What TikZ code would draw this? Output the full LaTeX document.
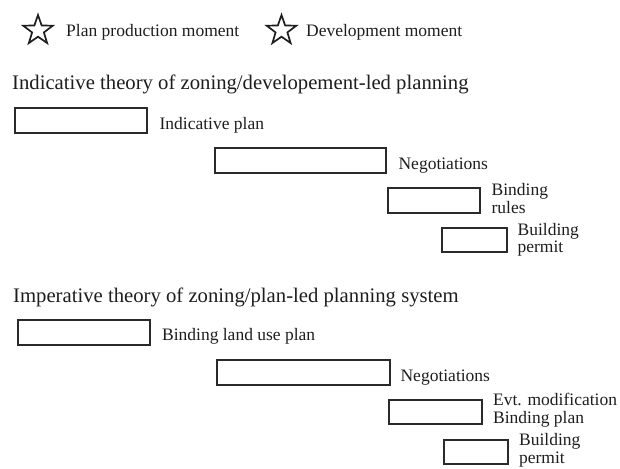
\documentclass[tikz,border=0pt]{standalone}
\usepackage{fontspec}
\setmainfont{Liberation Serif}
\usetikzlibrary{shapes.geometric}
\definecolor{ink}{HTML}{1E1E1E}
\definecolor{frame}{HTML}{2A2A2A}
\begin{document}
\begin{tikzpicture}[x=1pt,y=-1pt,
  phase/.style={draw=frame, line width=1.8pt, rectangle, inner sep=0pt, fill=white},
  lbl/.style={text=ink, inner sep=0pt, anchor=base west, align=left,
              font=\fontsize{17.5}{18}\selectfont},
  heading/.style={text=ink, inner sep=0pt, anchor=base west,
              font=\fontsize{20.7}{24}\selectfont},
  moment/.style={star, star points=5, star point ratio=2.5, draw=ink,
              line width=1.7pt, inner sep=0pt, minimum size=31pt}]
\useasboundingbox (0,0) rectangle (620,468);
\fill[white] (0,0) rectangle (620,468);

% legend
\node[moment] (s1) at (38,30.5) {};
\node[lbl] (k1) at (66,37) {Plan production moment};
\node[moment] (s2) at (281.5,30.5) {};
\node[lbl] (k2) at (306,37) {Development moment};

% indicative system
\node[heading] (h1) at (12,90) {Indicative theory of zoning/developement-led planning};
\node[phase, minimum width=132pt, minimum height=25pt] (b1) at (81,120.5) {};
\node[phase, minimum width=171pt, minimum height=25pt] (b2) at (300.5,160.5) {};
\node[phase, minimum width=92pt,  minimum height=25pt] (b3) at (434,200.5) {};
\node[phase, minimum width=65pt,  minimum height=24pt] (b4) at (474.5,240) {};
\node[lbl] (t1) at ([xshift=11.5pt,yshift=-8.5pt]b1.east) {Indicative plan};
\node[lbl] (t2) at ([xshift=11.5pt,yshift=-8.5pt]b2.east) {Negotiations};
% two-line labels: the base anchor sits on the last line
\node[lbl] (t3) at ([xshift=10.5pt,yshift=-12.5pt]b3.east) {Binding\\rules};
\node[lbl, font=\fontsize{17.5}{17}\selectfont] (t4) at ([xshift=9.5pt,yshift=-12pt]b4.east) {Building\\permit};

% imperative system
\node[heading] (h2) at (13,302) {Imperative theory of zoning/plan-led planning system};
\node[phase, minimum width=132pt, minimum height=25pt] (b5) at (84,332.5) {};
\node[phase, minimum width=173pt, minimum height=25pt] (b6) at (303.5,372.5) {};
\node[phase, minimum width=93pt,  minimum height=24pt] (b7) at (435.5,412) {};
\node[phase, minimum width=64pt,  minimum height=24pt] (b8) at (476,452) {};
\node[lbl] (t5) at ([xshift=11pt,yshift=-8pt]b5.east) {Binding land use plan};
\node[lbl] (t6) at ([xshift=9.5pt,yshift=-8.5pt]b6.east) {Negotiations};
\node[lbl] (t7) at ([xshift=10pt,yshift=-11pt]b7.east) {Evt. modification\\Binding plan};
\node[lbl] (t8) at ([xshift=10pt,yshift=-11pt]b8.east) {Building\\permit};
\end{tikzpicture}
\end{document}
